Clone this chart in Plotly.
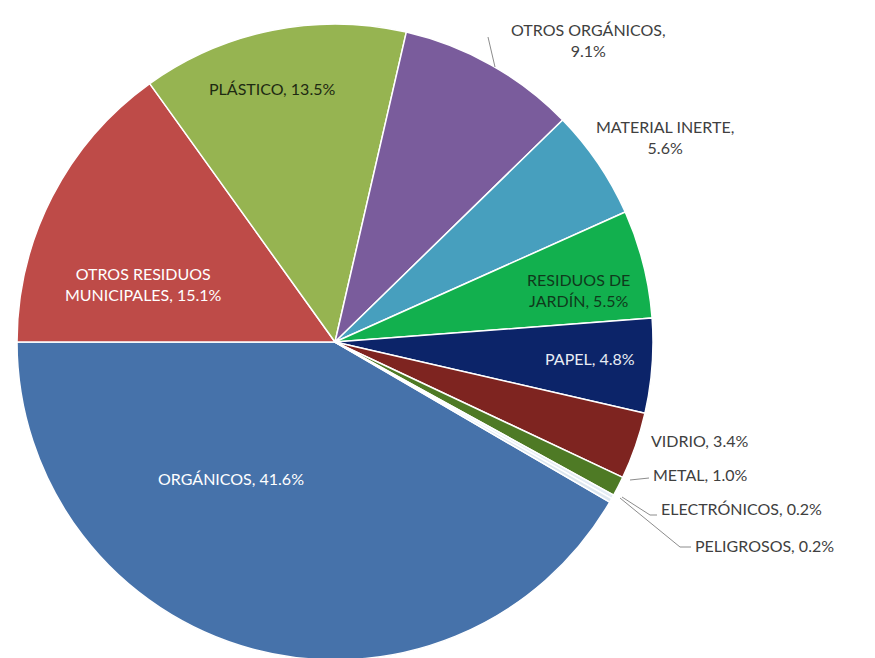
import plotly.graph_objects as go

W, H = 875, 658
OFF = 8  # page body margin

categories = ["ORGÁNICOS", "OTROS RESIDUOS MUNICIPALES", "PLÁSTICO", "OTROS ORGÁNICOS",
              "MATERIAL INERTE", "RESIDUOS DE JARDÍN", "PAPEL", "VIDRIO", "METAL",
              "ELECTRÓNICOS", "PELIGROSOS"]
values = [41.6, 15.1, 13.5, 9.1, 5.6, 5.5, 4.8, 3.4, 1.0, 0.2, 0.2]
label_text = ["ORGÁNICOS, 41.6%", "OTROS RESIDUOS<br>MUNICIPALES, 15.1%", "PLÁSTICO, 13.5%",
              "OTROS ORGÁNICOS,<br>9.1%", "MATERIAL INERTE,<br>5.6%", "RESIDUOS DE<br>JARDÍN, 5.5%",
              "PAPEL, 4.8%", "VIDRIO, 3.4%", "METAL, 1.0%", "ELECTRÓNICOS, 0.2%", "PELIGROSOS, 0.2%"]
colors = ["#4672AA", "#BE4B48", "#96B451", "#7A5C9C", "#479FBE", "#12B04E",
          "#0C2469", "#7E2420", "#4E7A25", "#E4ECF5", "#DDE7F0"]

# label placement (pixel centre / anchor in the screenshot) and style
label_pos = [(231, 478, "center"), (143, 284, "center"), (272, 88, "center"),
             (588, 40, "center"), (665, 137, "center"), (578, 290, "center"),
             (590, 358, "center"), (649, 440, "left"), (651, 474, "left"),
             (659, 508, "left"), (693, 545, "left")]
label_color = ["#FFFFFF", "#FFFFFF", "#1E2A12", "#404040", "#404040", "#0F3A1C",
               "#E8ECF4", "#404040", "#404040", "#404040", "#404040"]

def px(x, y):
    return (x - OFF) / W, 1 - (y - OFF) / H

cx, cy, r = 335 - OFF, 342 - OFF, 318

fig = go.Figure(go.Pie(
    labels=categories, values=values, sort=False, direction="clockwise",
    rotation=120.24, textinfo="none", hoverinfo="label+percent",
    marker=dict(colors=colors, line=dict(color="white", width=1.5)),
    domain=dict(x=[(cx - r) / W, (cx + r) / W], y=[(H - cy - r) / H, (H - cy + r) / H]),
    showlegend=False,
))

for txt, (x, y, anc), col in zip(label_text, label_pos, label_color):
    xp, yp = px(x, y)
    fig.add_annotation(x=xp, y=yp, xref="paper", yref="paper", text=txt,
                       showarrow=False, xanchor=anc, yanchor="middle",
                       align="center", font=dict(family="Lato", size=16, color=col))

# leader lines (pixel coordinates in the screenshot)
leaders = [[(488, 37), (495, 67)],
           [(630, 480), (649, 478)],
           [(622, 497), (650, 515), (657, 515)],
           [(620, 498), (680, 547), (691, 547)]]
for pts in leaders:
    for (x0, y0), (x1, y1) in zip(pts[:-1], pts[1:]):
        a, b = px(x0, y0)
        c, d = px(x1, y1)
        fig.add_shape(type="line", xref="paper", yref="paper", x0=a, y0=b, x1=c, y1=d,
                      line=dict(color="#8C8C8C", width=1))

fig.update_layout(width=W, height=H, margin=dict(l=0, r=0, t=0, b=0),
                  paper_bgcolor="white", plot_bgcolor="white")
fig.write_html("out.html")
